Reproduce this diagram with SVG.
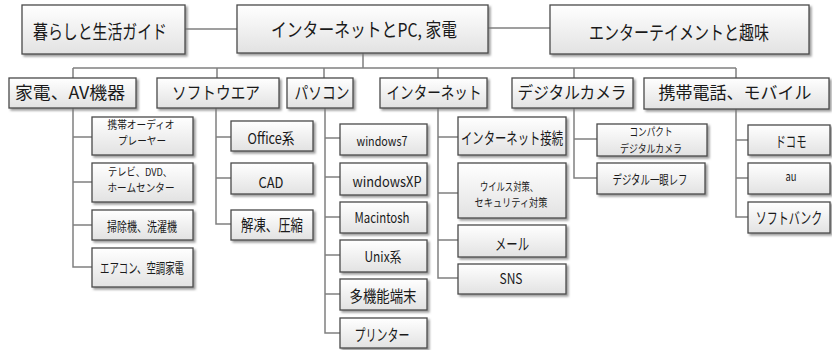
<svg xmlns="http://www.w3.org/2000/svg" width="832" height="350" viewBox="0 0 832 350">
<defs>
<linearGradient id="g" x1="0" y1="0" x2="0" y2="1">
<stop offset="0" stop-color="#ffffff"/>
<stop offset="1" stop-color="#e2e2e2"/>
</linearGradient>
<filter id="sh" x="-10%" y="-10%" width="130%" height="140%">
<feDropShadow dx="2" dy="2" stdDeviation="0.8" flood-color="#7a7a7a" flood-opacity="0.75"/>
</filter>
<style>
.b{fill:url(#g);stroke:#4a4a4a;stroke-width:1.3;filter:url(#sh)}
.c{fill:none;stroke:#808080;stroke-width:1.5}
text{font-family:"Noto Sans CJK JP","Noto Sans",sans-serif;fill:#1a1a1a;text-anchor:middle;dominant-baseline:central}
.t1{font-size:19px}
.t2{font-size:17px}
.s11{font-size:11px}.s12{font-size:12px}.s13{font-size:13px}.s14{font-size:14px}.s15{font-size:15px}.s16{font-size:16px}
</style>
</defs>
<rect width="832" height="350" fill="#ffffff"/>
<g id="connectors">
<path class="c" d="M185 29H237M488 28H550"/>
<path class="c" d="M363 53V68M73 68H736M73 68V78M217 68V78M324 68V78M438 68V78M574 68V78M736 68V78"/>
<path class="c" d="M73 108V267H92M73 137H92M73 182H92M73 225H92"/>
<path class="c" d="M216 108V224H231M216 137H231M216 178H231"/>
<path class="c" d="M325 108V333H340M325 138H340M325 177H340M325 217H340M325 255H340M325 294H340"/>
<path class="c" d="M438 108V278H458M438 137H458M438 193H458M438 240H458"/>
<path class="c" d="M574 108V178H597M574 139H597"/>
<path class="c" d="M736 109V217H748M736 140H748M736 178H748"/>
</g>
<g id="n-kurashi"><rect class="b" x="22" y="5" width="163" height="49"/><text class="t1" x="100" y="30" textLength="134" lengthAdjust="spacingAndGlyphs">暮らしと生活ガイド</text></g>
<g id="n-root"><rect class="b" x="237" y="5" width="251" height="48"/><text class="t1" x="364" y="28" textLength="186" lengthAdjust="spacingAndGlyphs">インターネットとPC, 家電</text></g>
<g id="n-enta"><rect class="b" x="550" y="5" width="259" height="49"/><text class="t1" x="679" y="31" textLength="180" lengthAdjust="spacingAndGlyphs">エンターテイメントと趣味</text></g>

<g id="n-kaden"><rect class="b" x="9" y="78" width="127" height="30"/><text class="t2" x="70" y="91" textLength="110" lengthAdjust="spacingAndGlyphs">家電、AV機器</text></g>
<g id="n-soft"><rect class="b" x="157" y="78" width="122" height="30"/><text class="t2" x="216" y="91" textLength="88" lengthAdjust="spacingAndGlyphs">ソフトウエア</text></g>
<g id="n-pc"><rect class="b" x="287" y="78" width="66" height="30"/><text class="t2" x="322" y="91" textLength="55" lengthAdjust="spacingAndGlyphs">パソコン</text></g>
<g id="n-net"><rect class="b" x="380" y="78" width="107" height="30"/><text class="t2" x="434" y="91" textLength="95" lengthAdjust="spacingAndGlyphs">インターネット</text></g>
<g id="n-cam"><rect class="b" x="512" y="78" width="121" height="30"/><text class="t2" x="572" y="91" textLength="109" lengthAdjust="spacingAndGlyphs">デジタルカメラ</text></g>
<g id="n-mobile"><rect class="b" x="644" y="78" width="185" height="31"/><text class="t2" x="735" y="91" textLength="153" lengthAdjust="spacingAndGlyphs">携帯電話、モバイル</text></g>

<g id="n-audio"><rect class="b" x="92" y="117" width="101" height="38"/><text class="s11" x="141" y="124" textLength="67" lengthAdjust="spacingAndGlyphs">携帯オーディオ</text><text class="s11" x="142" y="140" textLength="48" lengthAdjust="spacingAndGlyphs">プレーヤー</text></g>
<g id="n-tv"><rect class="b" x="92" y="163" width="101" height="39"/><text class="s11" x="140" y="171" textLength="64" lengthAdjust="spacingAndGlyphs">テレビ、DVD、</text><text class="s11" x="141" y="187" textLength="67" lengthAdjust="spacingAndGlyphs">ホームセンター</text></g>
<g id="n-souji"><rect class="b" x="92" y="210" width="101" height="30"/><text class="s13" x="142" y="225" textLength="70" lengthAdjust="spacingAndGlyphs">掃除機、洗濯機</text></g>
<g id="n-aircon"><rect class="b" x="92" y="248" width="101" height="39"/><text class="s14" x="142" y="267" textLength="84" lengthAdjust="spacingAndGlyphs">エアコン、空調家電</text></g>

<g id="n-office"><rect class="b" x="231" y="121" width="82" height="30"/><text class="s15" x="271" y="137" textLength="47" lengthAdjust="spacingAndGlyphs">Office系</text></g>
<g id="n-cad"><rect class="b" x="231" y="163" width="82" height="31"/><text class="s15" x="271" y="181" textLength="25" lengthAdjust="spacingAndGlyphs">CAD</text></g>
<g id="n-kaitou"><rect class="b" x="231" y="210" width="82" height="30"/><text class="s16" x="272" y="224" textLength="62" lengthAdjust="spacingAndGlyphs">解凍、圧縮</text></g>

<g id="n-win7"><rect class="b" x="340" y="124" width="87" height="31"/><text class="s13" x="382" y="140" textLength="51" lengthAdjust="spacingAndGlyphs">windows7</text></g>
<g id="n-winxp"><rect class="b" x="340" y="163" width="87" height="32"/><text class="s14" x="387" y="181" textLength="69" lengthAdjust="spacingAndGlyphs">windowsXP</text></g>
<g id="n-mac"><rect class="b" x="340" y="202" width="87" height="31"/><text class="s14" x="382" y="217" textLength="55" lengthAdjust="spacingAndGlyphs">Macintosh</text></g>
<g id="n-unix"><rect class="b" x="340" y="240" width="87" height="32"/><text class="s14" x="383" y="256" textLength="37" lengthAdjust="spacingAndGlyphs">Unix系</text></g>
<g id="n-tablet"><rect class="b" x="340" y="279" width="87" height="31"/><text class="s16" x="383" y="295" textLength="67" lengthAdjust="spacingAndGlyphs">多機能端末</text></g>
<g id="n-printer"><rect class="b" x="340" y="318" width="87" height="30"/><text class="s16" x="382" y="334" textLength="55" lengthAdjust="spacingAndGlyphs">プリンター</text></g>

<g id="n-netconn"><rect class="b" x="458" y="117" width="108" height="38"/><text class="s16" x="512" y="137" textLength="102" lengthAdjust="spacingAndGlyphs">インターネット接続</text></g>
<g id="n-virus"><rect class="b" x="458" y="163" width="108" height="55"/><text class="s11" x="509" y="186" textLength="58" lengthAdjust="spacingAndGlyphs">ウイルス対策、</text><text class="s11" x="511" y="202" textLength="73" lengthAdjust="spacingAndGlyphs">セキュリティ対策</text></g>
<g id="n-mail"><rect class="b" x="458" y="225" width="108" height="32"/><text class="s16" x="512" y="243" textLength="34" lengthAdjust="spacingAndGlyphs">メール</text></g>
<g id="n-sns"><rect class="b" x="458" y="264" width="108" height="30"/><text class="s14" x="511" y="278" textLength="23" lengthAdjust="spacingAndGlyphs">SNS</text></g>

<g id="n-compact"><rect class="b" x="597" y="124" width="110" height="32"/><text class="s11" x="651" y="131" textLength="43" lengthAdjust="spacingAndGlyphs">コンパクト</text><text class="s11" x="651" y="148" textLength="62" lengthAdjust="spacingAndGlyphs">デジタルカメラ</text></g>
<g id="n-slr"><rect class="b" x="597" y="163" width="108" height="31"/><text class="s13" x="650" y="178" textLength="75" lengthAdjust="spacingAndGlyphs">デジタル一眼レフ</text></g>

<g id="n-docomo"><rect class="b" x="748" y="125" width="82" height="30"/><text class="s15" x="791" y="140" textLength="31" lengthAdjust="spacingAndGlyphs">ドコモ</text></g>
<g id="n-au"><rect class="b" x="748" y="163" width="82" height="31"/><text class="s12" x="791" y="175" textLength="11" lengthAdjust="spacingAndGlyphs">au</text></g>
<g id="n-softbank"><rect class="b" x="748" y="202" width="82" height="31"/><text class="s16" transform="translate(789 217) scale(0.69 1)" x="0" y="0">ソフトバンク</text></g>
</svg>
